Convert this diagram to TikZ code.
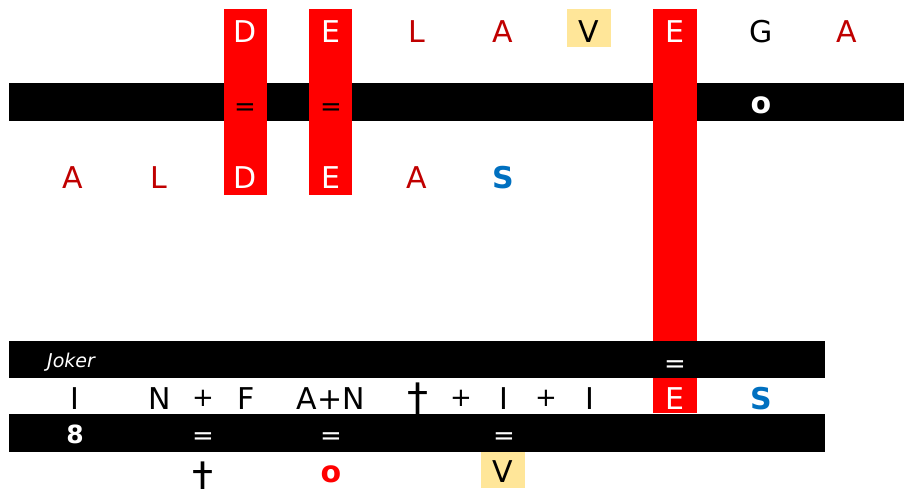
\documentclass[tikz,border=0pt]{standalone}
\usepackage{fontspec}
\setmainfont{DejaVu Sans}
\definecolor{dred}{HTML}{C00000}
\definecolor{sblue}{HTML}{0070C0}
\definecolor{yel}{HTML}{FFE699}
\definecolor{rred}{HTML}{FF0000}
\begin{document}
\begin{tikzpicture}[x=1pt,y=-1pt,
  lt/.style={inner sep=0pt, anchor=base, font=\fontsize{30}{36}\selectfont},
  bt/.style={lt, font=\fontsize{30}{36}\selectfont\bfseries},
  eqs/.style={lt, font=\fontsize{26}{30}\selectfont},
  dag/.style={lt, font=\fontsize{42}{46}\selectfont},
  bar/.style={fill=black},
  redcol/.style={fill=rred},
  yelbox/.style={fill=yel}]
\useasboundingbox (0,0) rectangle (904,488);
% bars and columns
\fill[bar] (9,83) rectangle (904,121);
\fill[redcol] (224,9) rectangle (267,195);
\fill[redcol] (309,9) rectangle (352,195);
\fill[redcol] (653,9) rectangle (697,413);
\fill[yelbox] (567,9) rectangle (611,47);
\fill[yelbox] (481,452) rectangle (525,488);
\fill[bar] (9,341) rectangle (825,378);
\fill[bar] (9,414) rectangle (825,452);
% top row
\node[lt,white] (t1) at (245,42) {D};
\node[lt,white] (t2) at (331,42) {E};
\node[lt,dred] (t3) at (417,42) {L};
\node[lt,dred] (t4) at (503,42) {A};
\node[lt,black] (t5) at (589,42) {V};
\node[lt,white] (t6) at (675,42) {E};
\node[lt,black] (t7) at (761,42) {G};
\node[lt,dred] (t8) at (847,42) {A};
% bar 1
\node[eqs,black] (b1a) at (245,115) {=};
\node[eqs,black] (b1b) at (331,115) {=};
\node[bt,white] (b1c) at (761,113) {o};
% row 3
\node[lt,dred] (r1) at (73,188) {A};
\node[lt,dred] (r2) at (159,188) {L};
\node[lt,white] (r3) at (245,188) {D};
\node[lt,white] (r4) at (331,188) {E};
\node[lt,dred] (r5) at (417,188) {A};
\node[bt,sblue] (r6) at (503,188) {S};
% bar 2
\node[inner sep=0pt, anchor=base west, white, font=\fontsize{19}{22}\selectfont\itshape] (joker) at (47,367) {Joker};
\node[eqs,white] (b2a) at (675,372) {=};
% row 4
\node[lt] (q1) at (75,409) {I};
\node[lt] (q2) at (160,409) {N};
\node[eqs] (q3) at (203,406) {+};
\node[lt] (q4) at (246,409) {F};
\node[lt] (q5) at (331,409) {A+N};
\node[dag] (q6) at (418,413) {†};
\node[eqs] (q7) at (461,406) {+};
\node[lt] (q8) at (504,409) {I};
\node[eqs] (q9) at (546,406) {+};
\node[lt] (q10) at (590,409) {I};
\node[lt,white] (q11) at (675,409) {E};
\node[bt,sblue] (q12) at (761,409) {S};
% bar 3
\node[inner sep=0pt, anchor=base, white, font=\fontsize{25}{28}\selectfont\bfseries] (b3a) at (75,443) {8};
\node[eqs,white] (b3b) at (203,444) {=};
\node[eqs,white] (b3c) at (331,444) {=};
\node[eqs,white] (b3d) at (504,444) {=};
% bottom row
\node[dag] (z1) at (203,492) {†};
\node[bt,rred] (z2) at (331,482) {o};
\node[lt] (z3) at (503,482) {V};
\end{tikzpicture}
\end{document}
